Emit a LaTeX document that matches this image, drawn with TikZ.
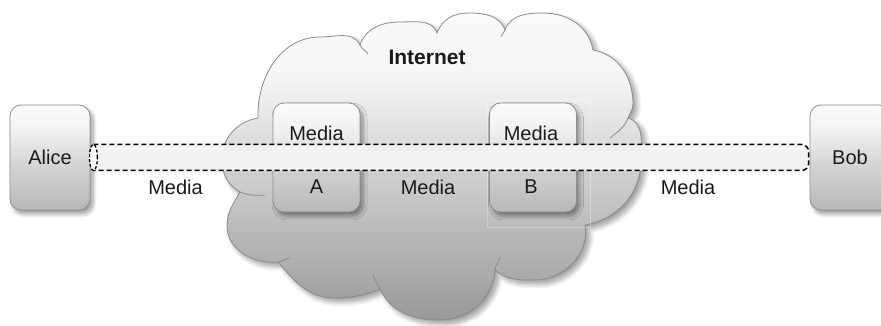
\documentclass[tikz,border=0pt]{standalone}
\usepackage{fontspec}
\setmainfont{Liberation Sans}
\usetikzlibrary{shadows.blur}
\definecolor{c0}{HTML}{999999}
\definecolor{c1}{HTML}{C4C4C4}
\definecolor{c2}{HTML}{E0E0E0}
\definecolor{c3}{HTML}{F5F5F5}
\definecolor{c4}{HTML}{F9F9F9}
\definecolor{b0}{HTML}{B8B8B8}
\definecolor{b1}{HTML}{D6D6D6}
\definecolor{b2}{HTML}{F0F0F0}
\definecolor{b3}{HTML}{FCFCFC}
\definecolor{boxline}{HTML}{8E8E8E}
\definecolor{cloudline}{HTML}{8A8A8A}
\definecolor{tubefill}{HTML}{F1F2F1}
\definecolor{txt}{HTML}{1A1A1A}
\pgfdeclareverticalshading{cloudshade}{100bp}{color(0bp)=(c0); color(25bp)=(c0); color(44bp)=(c1); color(56bp)=(c2); color(64bp)=(c3); color(75bp)=(c4); color(100bp)=(c4)}
\pgfdeclareverticalshading{boxshade}{100bp}{color(0bp)=(b0); color(25bp)=(b0); color(48bp)=(b1); color(62bp)=(b2); color(75bp)=(b3); color(100bp)=(b3)}
\tikzset{
  softshadow/.style={blur shadow={shadow xshift=3pt, shadow yshift=-4pt, shadow opacity=40, shadow blur steps=8, shadow blur radius=4pt}},
  devbox/.style={draw=boxline, line width=0.8pt, rounded corners=11pt, shade, shading=boxshade,
    minimum width=80pt, minimum height=105pt, inner sep=0pt, softshadow},
  relaybox/.style={devbox, minimum width=87pt, minimum height=109pt},
  lbl/.style={font=\fontsize{20}{24}\selectfont, inner sep=0pt, text=txt},
  tubeline/.style={draw=black, line width=1.5pt, dash pattern=on 5pt off 3pt},
  cloudedge/.style={draw=cloudline, line width=0.8pt},
}
\begin{document}
\begin{tikzpicture}[x=1pt,y=1pt]
\useasboundingbox (0,0) rectangle (881,326);
% cloud
\path[shade, shading=cloudshade, blur shadow={shadow xshift=4pt, shadow yshift=-4pt, shadow opacity=40, shadow blur steps=10, shadow blur radius=5pt}]
  (258,208) to[out=92,in=180] (320,289) to[out=0,in=115] (360,281)
  to[out=70,in=180] (400,304) to[out=0,in=110] (437,293)
  to[out=70,in=180] (468,313) to[out=0,in=110] (505,296)
  to[out=70,in=180] (543,313) to[out=0,in=100] (593,276)
  to[out=-10,in=90] (633,222) to[out=-90,in=70] (628,208)
  to[out=-15,in=90] (641,166) to[out=-90,in=10] (585,101)
  to[out=-80,in=0] (535,46) to[out=180,in=-40] (495,56)
  to[out=-95,in=0] (440,6) to[out=180,in=-65] (380,37)
  to[out=-160,in=0] (335,28) to[out=180,in=-50] (278,64)
  to[out=185,in=-90] (227,100) to[out=90,in=-120] (240,134)
  to[out=150,in=-90] (222,167) to[out=90,in=190] (258,208) -- cycle;
\draw[cloudedge]
  (258,208) to[out=92,in=180] (320,289) to[out=0,in=115] (360,281)
  to[out=70,in=180] (400,304) to[out=0,in=110] (437,293)
  to[out=70,in=180] (468,313) to[out=0,in=110] (505,296)
  to[out=70,in=180] (543,313) to[out=0,in=100] (593,276)
  to[out=-10,in=90] (633,222) to[out=-90,in=70] (628,208)
  to[out=-15,in=90] (641,166) to[out=-90,in=10] (585,101)
  to[out=-80,in=0] (535,46) to[out=180,in=-40] (495,56)
  to[out=-95,in=0] (440,6) to[out=180,in=-65] (380,37)
  to[out=-160,in=0] (335,28) to[out=180,in=-50] (278,64)
  to[out=185,in=-90] (227,100) to[out=90,in=-120] (240,134)
  to[out=150,in=-90] (222,167) to[out=90,in=190] (258,208) -- cycle;
% inner tails of the cloud lobes
\draw[cloudedge] (360,281) to[out=-65,in=125] (368,272);
\draw[cloudedge] (505,296) to[out=-110,in=70] (501,289);
\draw[cloudedge] (628,208) to[out=-110,in=40] (610,188);
\draw[cloudedge] (495,56) to[out=85,in=-100] (500,69);
\draw[cloudedge] (380,37) to[out=115,in=-70] (373,51);
\draw[cloudedge] (278,64) to[out=5,in=200] (289,68);
\draw[cloudedge] (240,134) to[out=-20,in=185] (265,131);
\node[font=\bfseries\fontsize{21}{25}\selectfont, text=txt, inner sep=0pt] (inet) at (427,269) {Internet};
% faint frame around relay B
\draw[white, opacity=0.3, line width=0.6pt] (487,99) rectangle (590,226);
% end points
\node[devbox] (alice) at (50,168.5) {};
\node[devbox] (bob) at (850,168.5) {};
\node[lbl] (alicet) at (alice.center) {Alice};
\node[lbl] (bobt) at (bob.center) {Bob};
% relays
\node[relaybox] (relA) at (316.5,168.5) {};
\node[relaybox] (relB) at (533,168.5) {};
\node[lbl] (relAtop) at (316.5,192.5) {Media};
\node[lbl] (relAbot) at (316.5,139) {A};
\node[lbl] (relBtop) at (531,192.5) {Media};
\node[lbl] (relBbot) at (531,139) {B};
% media tube
\coordinate (tl) at ([xshift=3pt,yshift=13pt]alice.east);
\coordinate (bl) at ([xshift=3pt,yshift=-13pt]alice.east);
\coordinate (tr) at ([xshift=-1pt,yshift=13pt]bob.west);
\coordinate (br) at ([xshift=-1pt,yshift=-13pt]bob.west);
\fill[tubefill, rounded corners=7pt] (tl) -- (tr) -- (br) -- (bl) -- cycle;
\draw[tubeline, rounded corners=7pt] (tl) -- (tr) -- (br) -- (bl);
\draw[tubeline, line width=1.3pt, dash pattern=on 3pt off 2pt, fill=white] ([xshift=3pt]alice.east) ellipse [x radius=4, y radius=13];
% labels
\node[lbl] (m1) at (175.5,139) {Media};
\node[lbl] (m2) at (428,139) {Media};
\node[lbl] (m3) at (688,139) {Media};
\end{tikzpicture}
\end{document}
